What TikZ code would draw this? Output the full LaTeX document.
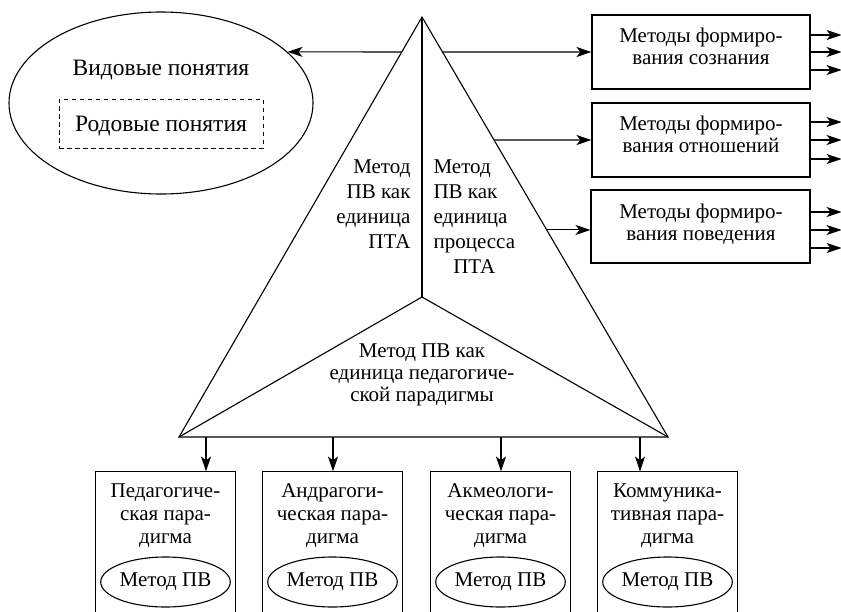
\documentclass[tikz,border=0pt]{standalone}
\usepackage{fontspec}
\setmainfont{Liberation Serif}
\usetikzlibrary{shapes.geometric,arrows.meta,calc}
\begin{document}
\begin{tikzpicture}[x=1pt,y=-1pt,line width=1.1pt,
  txt/.style={font=\fontsize{21}{22}\selectfont, inner sep=0pt},
  ttxt/.style={font=\fontsize{21}{25}\selectfont, inner sep=0pt},
  btxt/.style={font=\fontsize{21}{23}\selectfont, inner sep=0pt},
  etxt/.style={font=\fontsize{23.5}{25}\selectfont, inner sep=0pt},
  arr/.style={-{Stealth[length=15pt,width=10pt,inset=4pt]}},
  mbox/.style={draw, rectangle, inner sep=0pt},
  pbox/.style={draw=none, rectangle, inner sep=0pt, minimum width=139pt, minimum height=140pt},
  oval/.style={draw, ellipse, inner sep=0pt, minimum width=115pt, minimum height=50pt, font=\fontsize{21}{22}\selectfont},
]
\useasboundingbox (0,0) rectangle (841,611);

% ellipse with concepts
\node[draw, ellipse, minimum width=304pt, minimum height=182pt, inner sep=0pt] (ell) at (161,103) {};
\node[etxt, anchor=base] (vid) at (161,75) {Видовые понятия};
\node[draw, line width=0.9pt, dash pattern=on 4.5pt off 3.5pt, rectangle, minimum width=204pt, minimum height=49pt, inner sep=0pt] (rodbox) at (161,123.5) {};
\node[etxt, anchor=base] (rod) at (161,131) {Родовые понятия};

% triangle
\coordinate (A) at (422,17);
\coordinate (L) at (179,437);
\coordinate (R) at (668,437);
\coordinate (C) at (422,297);
\draw (A) -- (L) -- (R) -- cycle;
\draw (A) -- (C);
\draw (L) -- (C) -- (R);

\node[ttxt, anchor=base east] (tl) at (411,173) {\begin{tabular}[t]{@{}r@{}}Метод\\ПВ как\\единица\\ПТА\end{tabular}};
\node[ttxt, anchor=base west] (tr) at (433,173) {\begin{tabular}[t]{@{}l@{}}Метод\\ПВ как\\единица\\процесса\\\multicolumn{1}{@{}c@{}}{ПТА}\end{tabular}};
\node[txt, anchor=base] (tb) at (422,357) {\begin{tabular}[t]{@{}c@{}}Метод ПВ как\\единица педагогиче-\\ской парадигмы\end{tabular}};

% right boxes
\node[mbox, minimum width=218pt, minimum height=74pt] (m1) at (701,52) {};
\node[mbox, minimum width=218pt, minimum height=74pt] (m2) at (701,140) {};
\node[mbox, minimum width=219pt, minimum height=73pt] (m3) at (700.5,226.5) {};
\node[txt, anchor=base] (m1t) at (701,42) {\begin{tabular}[t]{@{}c@{}}Методы формиро-\\вания сознания\end{tabular}};
\node[txt, anchor=base] (m2t) at (701,130) {\begin{tabular}[t]{@{}c@{}}Методы формиро-\\вания отношений\end{tabular}};
\node[txt, anchor=base] (m3t) at (701,218) {\begin{tabular}[t]{@{}c@{}}Методы формиро-\\вания поведения\end{tabular}};

% arrows from triangle
\coordinate (e0) at ($(A)!0.0833!(L)$);
\coordinate (e1) at ($(A)!0.0833!(R)$);
\coordinate (e2) at ($(A)!0.2929!(R)$);
\coordinate (e3) at ($(A)!0.507!(R)$);
\draw[arr] (e0) -- (ell.22);
\draw[arr] (e1) -- (m1.west);
\draw[arr] (e2) -- (m2.west);
\draw[arr] (e3) -- (e3 -| m3.west);

% output arrows
\foreach \d in {-17,0,18} \draw[arr] (m1.east) ++(0,\d) -- ++(31,0);
\foreach \d in {-18,0,19} \draw[arr] (m2.east) ++(0,\d) -- ++(31,0);
\foreach \d in {-14.5,3.5,21.5} \draw[arr] (m3.east) ++(0,\d) -- ++(31,0);

% bottom boxes
\node[pbox] (b1) at (165.5,542) {};
\node[pbox] (b2) at (332.5,542) {};
\node[pbox] (b3) at (500.5,542) {};
\node[pbox] (b4) at (667.5,542) {};
\foreach \b in {b1,b2,b3,b4}
  \draw (\b.south west) -- (\b.north west) -- (\b.north east) -- (\b.south east);
\node[btxt, anchor=base] (b1t) at (165.5,497) {\begin{tabular}[t]{@{}c@{}}Педагогиче-\\ская пара-\\дигма\end{tabular}};
\node[btxt, anchor=base] (b2t) at (332.5,497) {\begin{tabular}[t]{@{}c@{}}Андрагоги-\\ческая пара-\\дигма\end{tabular}};
\node[btxt, anchor=base] (b3t) at (500.5,497) {\begin{tabular}[t]{@{}c@{}}Акмеологи-\\ческая пара-\\дигма\end{tabular}};
\node[btxt, anchor=base] (b4t) at (667.5,497) {\begin{tabular}[t]{@{}c@{}}Коммуника-\\тивная пара-\\дигма\end{tabular}};
\node[oval] (o1) at (165.5,582) {Метод ПВ};
\node[oval] (o2) at (332.5,582) {Метод ПВ};
\node[oval] (o3) at (500.5,582) {Метод ПВ};
\node[oval] (o4) at (667.5,582) {Метод ПВ};

% arrows down
\coordinate (d1) at (206,437);
\coordinate (d2) at (333,437);
\coordinate (d3) at (501,437);
\coordinate (d4) at (640,437);
\draw[arr] (d1) -- (d1 |- b1.north);
\draw[arr] (d2) -- (d2 |- b2.north);
\draw[arr] (d3) -- (d3 |- b3.north);
\draw[arr] (d4) -- (d4 |- b4.north);
\end{tikzpicture}
\end{document}
